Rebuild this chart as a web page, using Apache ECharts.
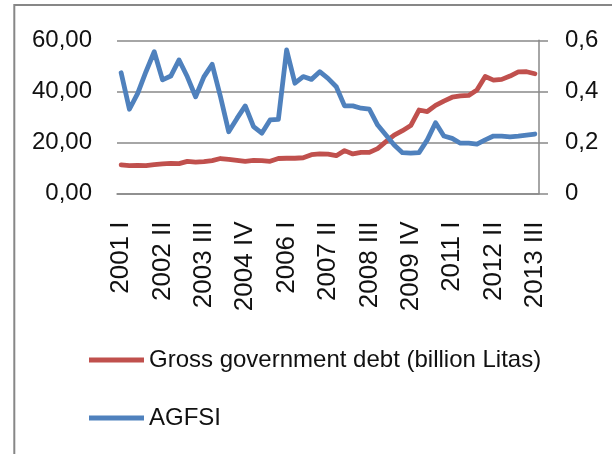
<!DOCTYPE html>
<html>
<head>
<meta charset="utf-8">
<script src="https://cdn.jsdelivr.net/npm/echarts@6/dist/echarts.min.js"></script>
<style>
html,body{margin:0;padding:0;background:#fff;}
#c{width:612px;height:454px;}
</style>
</head>
<body>
<div id="c"></div>
<script>
var categories = [
 "2001 I","2001 II","2001 III","2001 IV",
 "2002 I","2002 II","2002 III","2002 IV",
 "2003 I","2003 II","2003 III","2003 IV",
 "2004 I","2004 II","2004 III","2004 IV",
 "2005 I","2005 II","2005 III","2005 IV",
 "2006 I","2006 II","2006 III","2006 IV",
 "2007 I","2007 II","2007 III","2007 IV",
 "2008 I","2008 II","2008 III","2008 IV",
 "2009 I","2009 II","2009 III","2009 IV",
 "2010 I","2010 II","2010 III","2010 IV",
 "2011 I","2011 II","2011 III","2011 IV",
 "2012 I","2012 II","2012 III","2012 IV",
 "2013 I","2013 II","2013 III"
];
var debtName = "Gross government debt (billion Litas)";
var agfsiName = "AGFSI";
var debt = [
 11.2,10.9,11.0,10.9,11.3,11.6,11.8,11.7,12.6,12.3,
 12.5,12.9,13.7,13.4,13.0,12.6,13.0,12.9,12.6,13.7,
 13.8,13.8,14.0,15.2,15.5,15.4,14.8,16.8,15.5,16.1,
 16.1,17.6,20.3,22.9,24.6,26.6,32.7,32.1,34.5,36.2,
 37.7,38.2,38.4,40.5,45.8,44.4,44.7,46.0,47.6,47.7,
 46.9
];
var agfsi = [
 0.473,0.330,0.392,0.477,0.555,0.445,0.460,0.523,0.457,0.379,
 0.457,0.506,0.380,0.242,0.294,0.343,0.262,0.236,0.288,0.290,
 0.562,0.432,0.458,0.447,0.477,0.451,0.418,0.343,0.343,0.334,
 0.330,0.268,0.229,0.190,0.160,0.158,0.160,0.210,0.277,0.225,
 0.216,0.197,0.197,0.193,0.210,0.225,0.225,0.222,0.225,0.229,
 0.233
];
var leftTicks = ["0,00","20,00","40,00","60,00"];
var rightTicks = ["0","0,2","0,4","0,6"];

var FONT = "Liberation Sans";
var gridColor = "#898989";
var chart = echarts.init(document.getElementById('c'), null, {renderer:'canvas'});
chart.setOption({
  animation: false,
  backgroundColor: '#fff',
  graphic: [{
    type: 'rect', silent: true, z: 100,
    shape: {x: 14.3, y: 5, width: 700, height: 600},
    style: {fill: 'none', stroke: '#878787', lineWidth: 2}
  }],
  grid: {left: 117, top: 40.3, width: 422, height: 153.2, containLabel: false},
  legend: {
    orient: 'vertical', left: 89, top: 346, padding: 0,
    itemGap: 30, itemWidth: 55, itemHeight: 5, icon: 'rect',
    textStyle: {fontFamily: FONT, fontSize: 24, color: '#111', lineHeight: 28},
    data: [debtName, agfsiName]
  },
  xAxis: {
    type: 'category', data: categories, boundaryGap: true,
    axisLine: {show: true, lineStyle: {color: gridColor, width: 1.5}},
    axisTick: {show: false},
    axisLabel: {interval: 4, rotate: 90, margin: 28, fontFamily: FONT, fontSize: 26, color: '#111'}
  },
  yAxis: [{
    type: 'value', min: 0, max: 60, interval: 20, position: 'left',
    axisLine: {show: false}, axisTick: {show: false},
    splitLine: {show: true, lineStyle: {color: gridColor, width: 1.5}},
    axisLabel: {margin: 25, fontFamily: FONT, fontSize: 24, color: '#111',
      formatter: function(v, i){ return leftTicks[i]; }}
  },{
    type: 'value', min: 0, max: 0.6, interval: 0.2, position: 'right',
    axisLine: {show: true, lineStyle: {color: gridColor, width: 1.5}},
    axisTick: {show: true, inside: false, length: 9, lineStyle: {color: gridColor, width: 1.5}},
    splitLine: {show: false},
    axisLabel: {margin: 26, fontFamily: FONT, fontSize: 24, color: '#111',
      formatter: function(v, i){ return rightTicks[i]; }}
  }],
  series: [{
    name: debtName, type: 'line', yAxisIndex: 0, data: debt,
    symbol: 'none', smooth: false, color: '#C0504D',
    lineStyle: {width: 4.8, color: '#C0504D', join: 'round', cap: 'round'}
  },{
    name: agfsiName, type: 'line', yAxisIndex: 1, data: agfsi,
    symbol: 'none', smooth: false, color: '#4F81BD',
    lineStyle: {width: 4.8, color: '#4F81BD', join: 'round', cap: 'round'}
  }]
});
</script>
</body>
</html>
